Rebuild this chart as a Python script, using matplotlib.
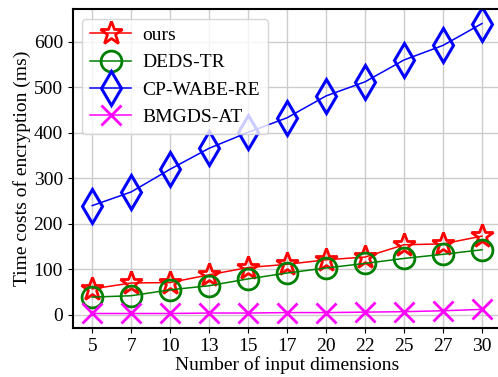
import numpy as np
import matplotlib
matplotlib.use('Agg')
import matplotlib.pyplot as plt

plt.rcParams['font.family'] = ['Liberation Serif', 'DejaVu Serif']
plt.rcParams['mathtext.fontset'] = 'stix'

dims = ['5', '7', '10', '13', '15', '17', '20', '22', '25', '27', '30']
ours = [57, 70, 71, 88, 104, 111, 121, 127, 154, 156, 173]
deds_tr = [39, 42, 55, 64, 79, 92, 103, 113, 124, 133, 143]
cp_wabe_re = [240, 270, 320, 366, 401, 433, 481, 512, 560, 592, 640]
bmgds_at = [3, 3, 3, 4, 4, 5, 5, 6, 7, 9, 12]

x = np.arange(len(dims))

fig = plt.figure(figsize=(4.98, 3.77), dpi=100)
ax = fig.add_axes([0.146, 0.130, 0.861, 0.846])

ax.plot(x, ours, color='red', lw=1.1, marker='*', ms=17, mfc='none', mew=2, label='ours')
ax.plot(x, deds_tr, color='green', lw=1.1, marker='o', ms=15, mfc='none', mew=2, label='DEDS-TR')
ax.plot(x, cp_wabe_re, color='blue', lw=1.1, marker='d', ms=17, mfc='none', mew=2.2, label='CP-WABE-RE')
ax.plot(x, bmgds_at, color='magenta', lw=1.1, marker='x', ms=15, mfc='none', mew=2, label='BMGDS-AT')

ax.set_xticks(x)
ax.set_xticklabels(dims)
ax.set_yticks([0, 100, 200, 300, 400, 500, 600])
ax.tick_params(labelsize=14)
ax.set_xlabel('Number of input dimensions', fontsize=14, labelpad=1)
ax.set_ylabel('Time costs of encryption (ms)', fontsize=14, labelpad=2)
ax.grid(True, color='#cccccc', lw=1)
ax.set_axisbelow(True)
for s in ax.spines.values():
    s.set_linewidth(1.5)
ax.spines['right'].set_visible(False)

ax.legend(loc='upper left', fontsize=14, handlelength=2.1, labelspacing=0.5,
          handletextpad=0.6, borderaxespad=0.5)

fig.savefig('out.png', dpi=100)
